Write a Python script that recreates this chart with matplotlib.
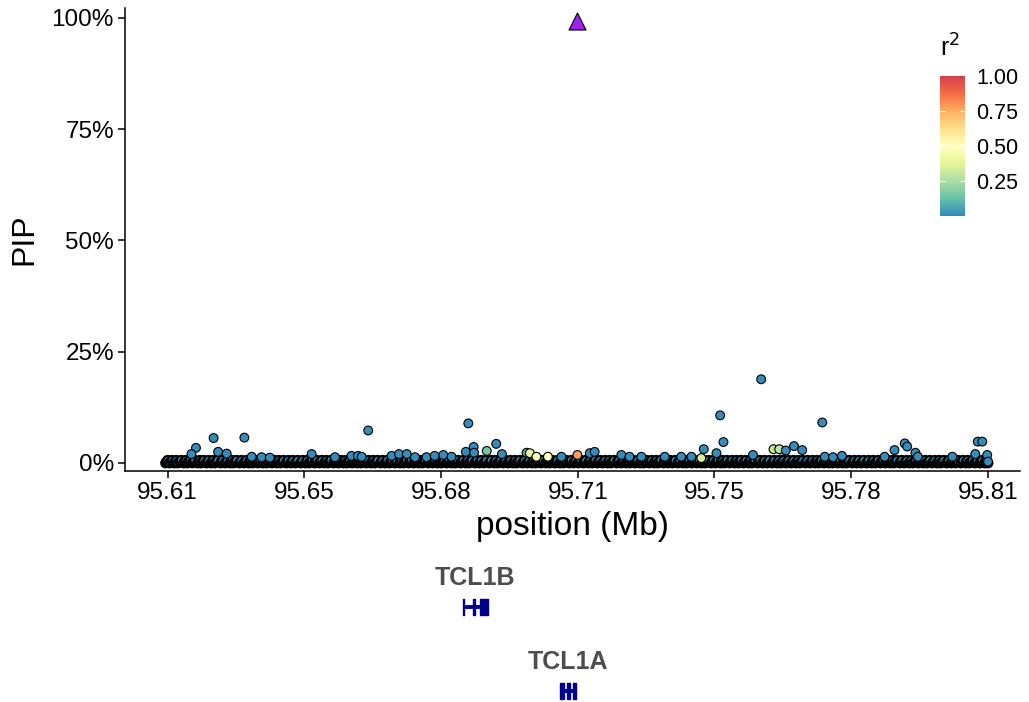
import numpy as np
import matplotlib
matplotlib.use("Agg")
import matplotlib.pyplot as plt
from matplotlib.colors import LinearSegmentedColormap

plt.rcParams['font.family'] = ['Liberation Sans', 'DejaVu Sans']

# lead SNP (triangle)
lead_pos = 95.7129
lead_pip = 0.993

# SNPs that stand out above the baseline band: position (Mb), PIP, r2
snp_pos = [95.6199, 95.6242, 95.6317, 95.6619, 95.6863, 95.6876, 95.6857, 95.6877,
           95.6908, 95.6931, 95.6945, 95.7005, 95.7013, 95.7129, 95.7159, 95.7171,
           95.7477, 95.7485, 95.7437, 95.7468, 95.7577, 95.7607, 95.7621, 95.7637,
           95.7657, 95.7677, 95.7726, 95.7902, 95.7927, 95.7933, 95.7953, 95.8105,
           95.8116, 95.8099, 95.8128, 95.8130, 95.8043, 95.7557,
           95.6188, 95.6253, 95.6274, 95.6335, 95.6359, 95.6379, 95.6481, 95.6538,
           95.6578, 95.6594, 95.6603, 95.6676, 95.6694, 95.6713, 95.6733, 95.6761,
           95.6781, 95.6802, 95.6822, 95.7029, 95.7057, 95.7090, 95.7236, 95.7256,
           95.7285, 95.7342, 95.7382, 95.7407, 95.7431, 95.7732, 95.7752, 95.7774,
           95.7878, 95.7959]
snp_pip = [0.034, 0.056, 0.057, 0.073, 0.089, 0.036, 0.025, 0.023,
           0.027, 0.043, 0.020, 0.023, 0.022, 0.018, 0.022, 0.025,
           0.107, 0.047, 0.031, 0.022, 0.188, 0.031, 0.031, 0.028,
           0.038, 0.029, 0.091, 0.029, 0.044, 0.037, 0.023, 0.048,
           0.048, 0.020, 0.018, 0.003, 0.014, 0.018,
           0.020, 0.025, 0.021, 0.014, 0.013, 0.012, 0.020, 0.013,
           0.016, 0.016, 0.014, 0.016, 0.020, 0.020, 0.013, 0.013,
           0.016, 0.018, 0.014, 0.014, 0.014, 0.014, 0.018, 0.014,
           0.014, 0.014, 0.014, 0.014, 0.011, 0.014, 0.013, 0.016,
           0.014, 0.014]
snp_r2 = [0.01, 0.01, 0.01, 0.01, 0.01, 0.01, 0.01, 0.01,
          0.15, 0.01, 0.01, 0.08, 0.40, 0.78, 0.01, 0.01,
          0.01, 0.01, 0.01, 0.01, 0.01, 0.30, 0.30, 0.01,
          0.01, 0.01, 0.01, 0.01, 0.01, 0.01, 0.01, 0.01,
          0.01, 0.01, 0.01, 0.01, 0.01, 0.01,
          0.01, 0.01, 0.01, 0.01, 0.01, 0.01, 0.01, 0.01,
          0.01, 0.01, 0.01, 0.01, 0.01, 0.01, 0.01, 0.01,
          0.01, 0.01, 0.01, 0.45, 0.50, 0.01, 0.01, 0.01,
          0.01, 0.01, 0.01, 0.01, 0.35, 0.01, 0.01, 0.01,
          0.01, 0.01]

# coloured SNPs inside the baseline band
ld_pos = [95.6905, 95.7000, 95.7040, 95.7085, 95.7445, 95.7530, 95.7625]
ld_pip = [0.006, 0.008, 0.006, 0.004, 0.006, 0.004, 0.008]
ld_r2 = [0.20, 0.45, 0.55, 0.35, 0.30, 0.40, 0.50]

# the dense band of near-zero PIP SNPs, kb offsets from 95.6 Mb
band_low_kb = [12.5, 13.4, 14.6, 15.5, 16.9, 17.8, 19.0, 20.3, 21.1, 22.4, 23.6, 24.5, 25.9, 27.0,
               28.2, 29.1, 30.5, 31.6, 32.8, 33.7, 35.0, 36.2, 37.1, 38.4, 39.6, 40.5, 41.9, 43.0,
               44.1, 45.4, 46.6, 47.5, 48.8, 50.0, 51.2, 52.1, 53.5, 54.6, 55.8, 56.7, 58.0, 59.2,
               60.1, 61.4, 62.6, 63.5, 64.9, 66.0, 67.1, 68.4, 69.6, 70.5, 71.8, 73.0, 74.2, 75.1,
               76.5, 77.6, 78.8, 79.7, 81.0, 82.2, 83.1, 84.4, 85.6, 86.5, 87.9, 89.0, 90.1, 91.4,
               92.6, 93.5, 94.8, 96.0, 97.2, 98.1, 99.5, 100.6, 101.8, 102.7, 104.0, 105.2, 106.1,
               107.4, 108.6, 109.5, 110.9, 112.0, 113.1, 114.4, 115.6, 116.5, 117.8, 119.0, 120.2,
               121.1, 122.5, 123.6, 124.8, 125.7, 127.0, 128.2, 129.1, 130.4, 131.6, 132.5, 133.9,
               135.0, 136.1, 137.4, 138.6, 139.5, 140.8, 142.0, 143.2, 144.1, 145.5, 146.6, 147.8,
               148.7, 150.0, 151.2, 152.1, 153.4, 154.6, 155.5, 156.9, 158.0, 159.1, 160.4, 161.6,
               162.5, 163.8, 165.0, 166.2, 167.1, 168.5, 169.6, 170.8, 171.7, 173.0, 174.2, 175.1,
               176.4, 177.6, 178.5, 179.9, 181.0, 182.1, 183.4, 184.6, 185.5, 186.8, 188.0, 189.2,
               190.1, 191.5, 192.6, 193.8, 194.7, 196.0, 197.2, 198.1, 199.4, 200.6, 201.5, 202.9,
               204.0, 205.1, 206.4, 207.6, 208.5, 209.8, 211.0, 212.2, 213.0]
band_mid_kb = [12.8, 13.9, 14.9, 16.0, 17.2, 18.2, 19.3, 20.6, 21.5, 22.7, 23.9, 24.9, 26.1, 27.3,
               28.5, 29.5, 30.8, 31.9, 33.0, 34.1, 35.3, 36.5, 37.5, 38.7, 39.9, 40.9, 42.1, 43.3,
               44.4, 45.7, 46.8, 47.9, 49.1, 50.3, 51.5, 52.5, 53.7, 54.9, 56.0, 57.1, 58.3, 59.5,
               60.5, 61.7, 62.9, 63.9, 65.1, 66.3, 67.4, 68.7, 69.8, 70.9, 72.1, 73.3, 74.5, 75.5,
               76.7, 77.9, 79.0, 80.1, 81.3, 82.5, 83.5, 84.7, 85.9, 86.9, 88.1, 89.3, 90.4, 91.7,
               92.8, 93.9, 95.1, 96.3, 97.5, 98.5, 99.7, 100.9, 102.0, 103.1, 104.3, 105.5, 106.5,
               107.7, 108.9, 109.9, 111.1, 112.3, 113.4, 114.7, 115.8, 116.9, 118.1, 119.3, 120.5,
               121.5, 122.7, 123.9, 125.0, 126.1, 127.3, 128.5, 129.5, 130.7, 131.9, 132.9, 134.1,
               135.3, 136.4, 137.7, 138.8, 139.9, 141.1, 142.3, 143.5, 144.5, 145.7, 146.9, 148.0,
               149.1, 150.3, 151.5, 152.5, 153.7, 154.9, 155.9, 157.1, 158.3, 159.4, 160.7, 161.8,
               162.9, 164.1, 165.3, 166.5, 167.5, 168.7, 169.9, 171.0, 172.1, 173.3, 174.5, 175.5,
               176.7, 177.9, 178.9, 180.1, 181.3, 182.4, 183.7, 184.8, 185.9, 187.1, 188.3, 189.5,
               190.5, 191.7, 192.9, 194.0, 195.1, 196.3, 197.5, 198.5, 199.7, 200.9, 201.9, 203.1,
               204.3, 205.4, 206.7, 207.8, 208.9, 210.1, 211.3, 212.5]
band_high_kb = [13.0, 14.1, 15.1, 16.3, 17.4, 18.5, 19.6, 20.8, 21.8, 23.0, 24.1, 25.2, 26.4, 27.6,
                28.7, 29.8, 31.0, 32.2, 33.3, 34.4, 35.6, 36.7, 37.8, 39.0, 40.1, 41.2, 42.4, 43.5,
                44.7, 45.9, 47.0, 48.2, 49.4, 50.6, 51.7, 52.8, 54.0, 55.2, 56.3, 57.4, 58.6, 59.7,
                60.8, 62.0, 63.1, 64.2, 65.4, 66.5, 67.7, 68.9, 70.0, 71.2, 72.4, 73.6, 74.7, 75.8,
                77.0, 78.2, 79.3, 80.4, 81.6, 82.7, 83.8, 85.0, 86.1, 87.2, 88.4, 89.5, 90.7, 91.9,
                93.0, 94.2, 95.4, 96.6, 97.7, 98.8, 100.0, 101.2, 102.3, 103.4, 104.6, 105.7, 106.8,
                108.0, 109.1, 110.2, 111.4, 112.5, 113.7, 114.9, 116.0, 117.2, 118.4, 119.6, 120.7,
                121.8, 123.0, 124.2, 125.3, 126.4, 127.6, 128.7, 129.8, 131.0, 132.1, 133.2, 134.4,
                135.5, 136.7, 137.9, 139.0, 140.2, 141.4, 142.6, 143.7, 144.8, 146.0, 147.2, 148.3,
                149.4, 150.6, 151.7, 152.8, 154.0, 155.1, 156.2, 157.4, 158.5, 159.7, 160.9, 162.0,
                163.2, 164.4, 165.6, 166.7, 167.8, 169.0, 170.2, 171.3, 172.4, 173.6, 174.7, 175.8,
                177.0, 178.1, 179.2, 180.4, 181.5, 182.7, 183.9, 185.0, 186.2, 187.4, 188.6, 189.7,
                190.8, 192.0, 193.2, 194.3, 195.4, 196.6, 197.7, 198.8, 200.0, 201.1, 202.2, 203.4,
                204.5, 205.7, 206.9, 208.0, 209.2, 210.4, 211.6, 212.6]
band_low_pip = 0.0
band_mid_pip = 0.003
band_high_pip = 0.006
band_r2 = 0.01

# x axis breaks and their (rounded) labels
x_breaks = [95.6130, 95.6463, 95.6797, 95.7130, 95.7463, 95.7797, 95.8130]
x_labels = ['95.61', '95.65', '95.68', '95.71', '95.75', '95.78', '95.81']
y_breaks = [0, 0.25, 0.5, 0.75, 1.0]
y_labels = ['0%', '25%', '50%', '75%', '100%']

# genes: name, start, end, exons (Mb)
gene_names = ['TCL1B', 'TCL1A']
gene_start = [95.6849, 95.7086]
gene_end = [95.6911, 95.7125]
gene_exons = [[(95.6849, 95.6853), (95.6874, 95.6879), (95.6891, 95.6911)],
              [(95.7086, 95.7096), (95.7104, 95.7112), (95.7117, 95.7125)]]

spectral = ['#D53E4F', '#F46D43', '#FDAE61', '#FEE08B', '#FFFFBF',
            '#E6F598', '#ABDDA4', '#66C2A5', '#3288BD']
cmap = LinearSegmentedColormap.from_list('spec_r', spectral[::-1])

W, H = 1029, 702
fig = plt.figure(figsize=(W / 100, H / 100), dpi=100)
ax = fig.add_axes([125 / W, 1 - 471 / H, 895 / W, 463 / H])

pt_kw = dict(cmap=cmap, vmin=0, vmax=1, s=40, edgecolors='black', linewidths=0.8)

# band: all rows merged and drawn in position order, so mostly edges stay visible
bx = 95.6 + np.concatenate([band_low_kb, band_mid_kb, band_high_kb]) / 1000
by = np.concatenate([np.full(len(band_low_kb), band_low_pip),
                     np.full(len(band_mid_kb), band_mid_pip),
                     np.full(len(band_high_kb), band_high_pip)])
order = np.argsort(bx)
ax.scatter(ld_pos, ld_pip, c=ld_r2, **pt_kw)
band_kw = dict(pt_kw, linewidths=1.5)
ax.scatter(bx[order], by[order], c=np.full(len(bx), band_r2), **band_kw)
sc = ax.scatter(snp_pos, snp_pip, c=snp_r2, **pt_kw)
ax.scatter([lead_pos], [lead_pip], marker='^', s=150, color='#A020F0',
           edgecolors='black', linewidths=0.8, zorder=5)

ax.set_xlim(95.6026, 95.8208)
ax.set_ylim(-0.018, 1.022)
ax.set_xticks(x_breaks)
ax.set_xticklabels(x_labels)
ax.set_yticks(y_breaks)
ax.set_yticklabels(y_labels)
ax.spines['top'].set_visible(False)
ax.spines['right'].set_visible(False)
for sp in ['left', 'bottom']:
    ax.spines[sp].set_linewidth(1.1)
ax.tick_params(labelsize=17.5, length=5, width=1.1, colors='black', pad=3)
ax.set_xlabel('position (Mb)', fontsize=24, labelpad=5)
ax.set_ylabel('PIP', fontsize=23, labelpad=9)

# colour bar
cax = fig.add_axes([940 / W, 1 - 216 / H, 25 / W, 140 / H])
cb = fig.colorbar(sc, cax=cax, ticks=[0.25, 0.5, 0.75, 1.0])
cb.outline.set_visible(False)
cb.ax.set_yticklabels(['0.25', '0.50', '0.75', '1.00'])
cb.ax.tick_params(labelsize=15.5, length=0, pad=8)
for t in [0.25, 0.5, 0.75]:
    cax.plot([0, 0.2], [t, t], color='white', lw=0.8)
    cax.plot([0.8, 1.0], [t, t], color='white', lw=0.8)
cax.set_xlim(0, 1)
fig.text(950 / W, 1 - 48 / H, 'r$^2$', fontsize=18, ha='center', va='center')

# gene track
gx = fig.add_axes([125 / W, 0, 895 / W, 150 / H])
gx.set_xlim(ax.get_xlim())
gx.set_ylim(0, 1)
gx.axis('off')
rows = [0.633, 0.073]
for name, g0, g1, ex, r in zip(gene_names, gene_start, gene_end, gene_exons, rows):
    gx.plot([g0, g1], [r, r], color='#00008B', lw=2.8, solid_capstyle='butt')
    gx.broken_barh([(a, b - a) for a, b in ex], (r - 0.053, 0.106), color='#00008B')
    gx.text((g0 + g1) / 2, r + 0.195, name, fontsize=18, fontweight='bold',
            color='#4D4D4D', ha='center', va='center')

fig.savefig('out.png', dpi=100)
